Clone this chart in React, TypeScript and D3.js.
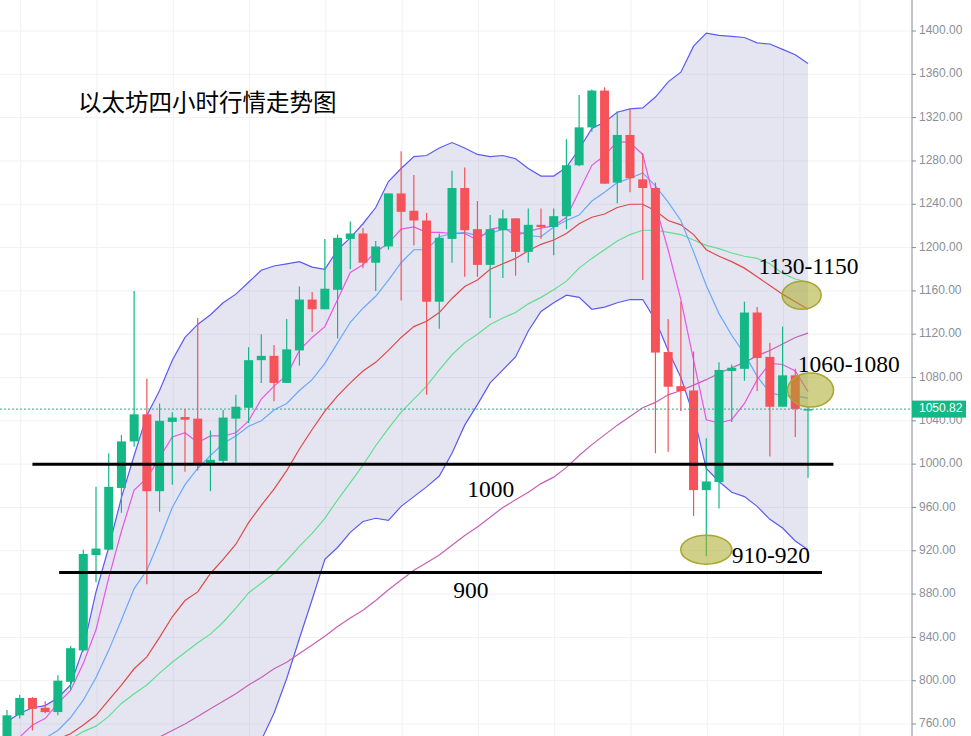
import * as d3 from 'd3';

// ETH 4h candles
const opens = [746, 768, 784, 775, 771, 799, 828, 916, 921, 978, 1021, 1046, 975, 1039, 1043.5, 1042, 1001, 1003, 1042, 1052, 1096, 1100, 1075, 1105, 1152, 1143, 1161, 1208, 1213, 1186, 1201, 1250, 1234, 1225, 1150, 1208, 1255, 1217, 1184, 1216, 1227, 1196, 1221, 1219, 1229, 1276, 1311, 1345, 1260, 1304, 1263, 1255, 1103.5, 1072, 1068, 976, 983.5, 1086, 1088, 1140, 1099, 1053, 1082, 1050.6];
const highs = [773, 787, 785, 781, 805, 832, 921, 979, 1010, 1027, 1160, 1079, 1056, 1048, 1051, 1135, 1031, 1050, 1064, 1108, 1120, 1110, 1134, 1164, 1159, 1208, 1212, 1224, 1218, 1206, 1250, 1289, 1267, 1232, 1213, 1271, 1274, 1243, 1230, 1235, 1227, 1236, 1236, 1236, 1300, 1341, 1346, 1348, 1326, 1328, 1287, 1260, 1134, 1150, 1104, 1024, 1094, 1092, 1150, 1145, 1112, 1127, 1088, 1053];
const lows = [738, 765, 754, 770, 768, 792, 827, 891, 921, 955, 1016, 889, 956, 981, 993, 994, 975, 1001, 1001, 1038, 1075, 1058, 1075, 1091, 1122, 1143, 1116, 1180, 1181, 1160, 1198, 1151, 1202, 1064, 1125, 1186, 1173, 1173, 1135, 1172, 1174, 1186, 1208, 1193, 1217, 1275, 1307, 1259, 1241, 1251, 1170, 1010, 1011.5, 1049, 952, 915, 959, 1039, 1077, 1067.5, 1007, 1053, 1025, 987.5];
const closes = [768, 784, 774, 771, 800, 830, 917, 922, 979, 1021, 1046, 975, 1040, 1043, 1041, 1001, 1004, 1043, 1053, 1096, 1100, 1075, 1106, 1152, 1143, 1162, 1209, 1213, 1186, 1201, 1250, 1233, 1225, 1150, 1209, 1255, 1216, 1184, 1217, 1227, 1196, 1221, 1219, 1229, 1276, 1311, 1345, 1259, 1304, 1264, 1255, 1103, 1071.5, 1067.5, 976, 984, 1087, 1089, 1140, 1098, 1053, 1082, 1051, 1050.82];

// indicators
const bollUpper = [762, 770, 775, 777, 784, 796, 830, 882, 923, 969, 1008, 1045, 1068, 1096, 1117, 1129, 1138, 1149, 1157, 1168, 1179, 1183, 1185, 1187, 1182, 1180, 1198, 1209, 1222, 1237, 1261, 1273, 1284, 1285, 1292, 1297, 1292, 1286, 1284, 1285, 1282, 1273, 1266, 1266, 1274, 1291, 1310, 1316, 1325, 1328, 1329, 1339, 1353, 1362, 1386, 1398, 1396, 1395, 1394, 1389, 1388, 1383, 1378, 1370];
const bollLower = [706, 704, 705, 708, 708, 705, 690, 660, 640, 625, 610, 600, 605, 615, 625, 635, 655, 675, 697, 722, 745, 770, 802, 839, 875, 912, 923, 937, 947, 950, 948, 961, 970, 979, 989, 1010, 1036, 1055, 1075, 1087, 1099, 1123, 1141, 1149, 1156, 1154, 1143, 1145, 1149, 1152, 1152, 1133, 1105, 1080, 1045, 996, 984, 974, 970, 961, 949, 941, 929, 921];
const ma5 = [741, 748, 759, 765, 779, 791, 816, 847, 895, 938, 976, 987, 1006, 1025, 1029, 1020, 1026, 1026, 1029, 1040, 1060, 1072, 1082, 1105, 1117, 1127, 1152, 1177, 1184, 1196, 1204, 1217, 1219, 1214, 1214, 1213, 1213, 1207, 1217, 1219, 1211, 1215, 1218, 1220, 1228, 1252, 1276, 1285, 1298, 1297, 1286, 1239, 1198, 1152, 1096, 1041, 1038, 1041, 1056, 1078, 1093, 1092, 1086, 1067];
const ma10 = [736, 741, 743, 747, 754, 766, 782, 803, 828, 856, 885, 902, 930, 960, 981, 996, 1008, 1019, 1026, 1035, 1040, 1050, 1056, 1068, 1078, 1093, 1112, 1131, 1144, 1155, 1170, 1186, 1198, 1198, 1210, 1213, 1214, 1211, 1213, 1217, 1216, 1211, 1210, 1219, 1225, 1230, 1243, 1251, 1260, 1264, 1269, 1257, 1242, 1225, 1196, 1165, 1139, 1119, 1102, 1081, 1066, 1063, 1063, 1061];
const ma20 = [734, 737, 740, 743, 746, 751, 759, 768, 782, 796, 811, 822, 840, 859, 874, 882, 899, 912, 926, 946, 962, 977, 994, 1014, 1032, 1049, 1063, 1075, 1086, 1094, 1105, 1117, 1127, 1132, 1140, 1153, 1164, 1170, 1180, 1185, 1190, 1197, 1203, 1207, 1213, 1222, 1228, 1231, 1237, 1240, 1240, 1234, 1225, 1221, 1212, 1198, 1192, 1187, 1181, 1173, 1165, 1157, 1150, 1143];
const ma30 = [725, 728, 731, 735, 739, 746, 753, 758, 767, 779, 788, 796, 807, 817, 826, 835, 843, 854, 867, 881, 890, 899, 911, 924, 936, 950, 967, 983, 999, 1017, 1033, 1048, 1060, 1072, 1087, 1101, 1112, 1120, 1129, 1135, 1140, 1148, 1154, 1161, 1169, 1181, 1190, 1198, 1206, 1212, 1216, 1216, 1214, 1212, 1207, 1202, 1199, 1195, 1192, 1190, 1185, 1176, 1171, 1168];
const ma60 = [694, 699, 704, 708, 713, 718, 722, 727, 731, 736, 740, 743, 748, 754, 760, 767, 774, 781, 788, 796, 803, 811, 817, 825, 833, 841, 850, 858, 865, 874, 884, 893, 902, 909, 916, 925, 934, 942, 951, 960, 967, 974, 982, 988, 997, 1008, 1018, 1027, 1036, 1044, 1052, 1057, 1064, 1068, 1073, 1078, 1084, 1089, 1094, 1100, 1105, 1111, 1117, 1121];

const yTicks = [760, 800, 840, 880, 920, 960, 1000, 1040, 1080, 1120, 1160, 1200, 1240, 1280, 1320, 1360, 1400];
const lastPrice = 1050.82;

// annotations: support lines, labels, target zones
const levels = [
  { price: 1000, from: 2, to: 65 },
  { price: 900, from: 4.1, to: 64.1 },
];
const notes = [
  { text: '1000', i: 36.2, price: 969.6 },
  { text: '900', i: 35.1, price: 876.4 },
  { text: '910-920', i: 57.0, price: 908.7 },
  { text: '1060-1080', i: 62.2, price: 1085 },
  { text: '1130-1150', i: 59.1, price: 1175.6 },
];
const zones = [
  { i: 62.5, price: 1156, rx: 19.5, ry: 14 },
  { i: 63.2, price: 1068.4, rx: 23, ry: 17 },
  { i: 55.0, price: 921, rx: 25.5, ry: 14.5 },
];

const W = 971;
const H = 736;
const axisX = 912;
const UP = '#13b886';
const DOWN = '#f6525a';

export default function App() {
  const x = d3.scaleLinear().domain([0, 63]).range([7, 808]);
  const y = d3.scaleLinear().domain([760, 1400]).range([724, 31]);
  const idx = d3.range(opens.length);

  const path = (vals: number[]) =>
    d3.line<number>().x(i => x(i)).y(i => y(vals[i]))(idx) || '';
  const band =
    d3.area<number>().x(i => x(i)).y0(i => y(bollLower[i])).y1(i => y(bollUpper[i]))(idx) || '';

  const xGrid = d3.range(1, 72, 6);
  const bodyW = 9;

  const maLines = [
    { vals: ma60, color: '#c95fb6' },
    { vals: ma30, color: '#5ee08c' },
    { vals: ma20, color: '#e04848' },
    { vals: ma10, color: '#6aa8fb' },
    { vals: ma5, color: '#e955e6' },
  ];

  return (
    <div style={{ position: 'absolute', left: 0, top: 0, width: W, height: H, overflow: 'hidden', background: '#fff' }}>
      <svg width={W} height={H} style={{ display: 'block' }}>
        <defs>
          <clipPath id="plot">
            <rect x={0} y={0} width={axisX} height={H} />
          </clipPath>
        </defs>

        {/* grid */}
        <g stroke="#f1f1f5" strokeWidth={1}>
          {yTicks.map(t => (
            <line key={t} x1={0} x2={axisX} y1={y(t)} y2={y(t)} />
          ))}
          {xGrid.map(i => (
            <line key={i} x1={x(i) + 1} x2={x(i) + 1} y1={0} y2={H} />
          ))}
        </g>

        <g clipPath="url(#plot)">
          {/* bollinger band */}
          <path d={band} fill="rgba(110,110,185,0.18)" stroke="none" />
          <path d={path(bollUpper)} fill="none" stroke="#5a5af2" strokeWidth={1.2} />
          <path d={path(bollLower)} fill="none" stroke="#5a5af2" strokeWidth={1.2} />

          {maLines.map((m, k) => (
            <path key={k} d={path(m.vals)} fill="none" stroke={m.color} strokeWidth={1.2} />
          ))}

          {/* candles */}
          {idx.map(i => {
            const up = closes[i] >= opens[i];
            const c = up ? UP : DOWN;
            const top = y(Math.max(opens[i], closes[i]));
            const bot = y(Math.min(opens[i], closes[i]));
            return (
              <g key={i}>
                <line x1={x(i)} x2={x(i)} y1={y(highs[i])} y2={y(lows[i])} stroke={c} strokeWidth={1.2} />
                <rect x={x(i) - bodyW / 2} y={top} width={bodyW} height={Math.max(bot - top, 1.5)} fill={c} />
              </g>
            );
          })}

          {/* last price */}
          <line x1={0} x2={axisX} y1={y(lastPrice)} y2={y(lastPrice)} stroke={UP} strokeWidth={1} strokeDasharray="2,2" />

          {/* support levels */}
          {levels.map(l => (
            <line key={l.price} x1={x(l.from)} x2={x(l.to)} y1={y(l.price)} y2={y(l.price)} stroke="#000" strokeWidth={3} />
          ))}

          {zones.map((z, k) => (
            <ellipse key={k} cx={x(z.i)} cy={y(z.price)} rx={z.rx} ry={z.ry}
              fill="rgba(170,170,40,0.55)" stroke="#a6a630" strokeWidth={1.5} />
          ))}

          {notes.map(n => (
            <text key={n.text} x={x(n.i)} y={y(n.price)} fontFamily="'Liberation Serif', 'Times New Roman', serif"
              fontSize={23.5} fill="#000">{n.text}</text>
          ))}
        </g>

        {/* title */}
        <text x={78} y={111} fontFamily="'Noto Sans CJK SC', sans-serif" fontSize={23.5} fill="#000">
          以太坊四小时行情走势图
        </text>

        {/* right axis */}
        <line x1={axisX} x2={axisX} y1={0} y2={H} stroke="#858a96" strokeWidth={1} />
        <g fontFamily="'Liberation Sans', Arial, sans-serif" fontSize={12} fill="#8a8f99">
          {yTicks.map(t => (
            <g key={t}>
              <line x1={axisX} x2={axisX + 4} y1={y(t)} y2={y(t)} stroke="#858a96" />
              <text x={axisX + 7} y={y(t)} dominantBaseline="middle">{t.toFixed(2)}</text>
            </g>
          ))}
        </g>
        <rect x={axisX} y={y(lastPrice) - 8.5} width={54} height={17} fill={UP} />
        <text x={axisX + 7} y={y(lastPrice)} dominantBaseline="middle" fontFamily="'Liberation Sans', Arial, sans-serif"
          fontSize={12} fill="#fff">{lastPrice.toFixed(2)}</text>
      </svg>
    </div>
  );
}
